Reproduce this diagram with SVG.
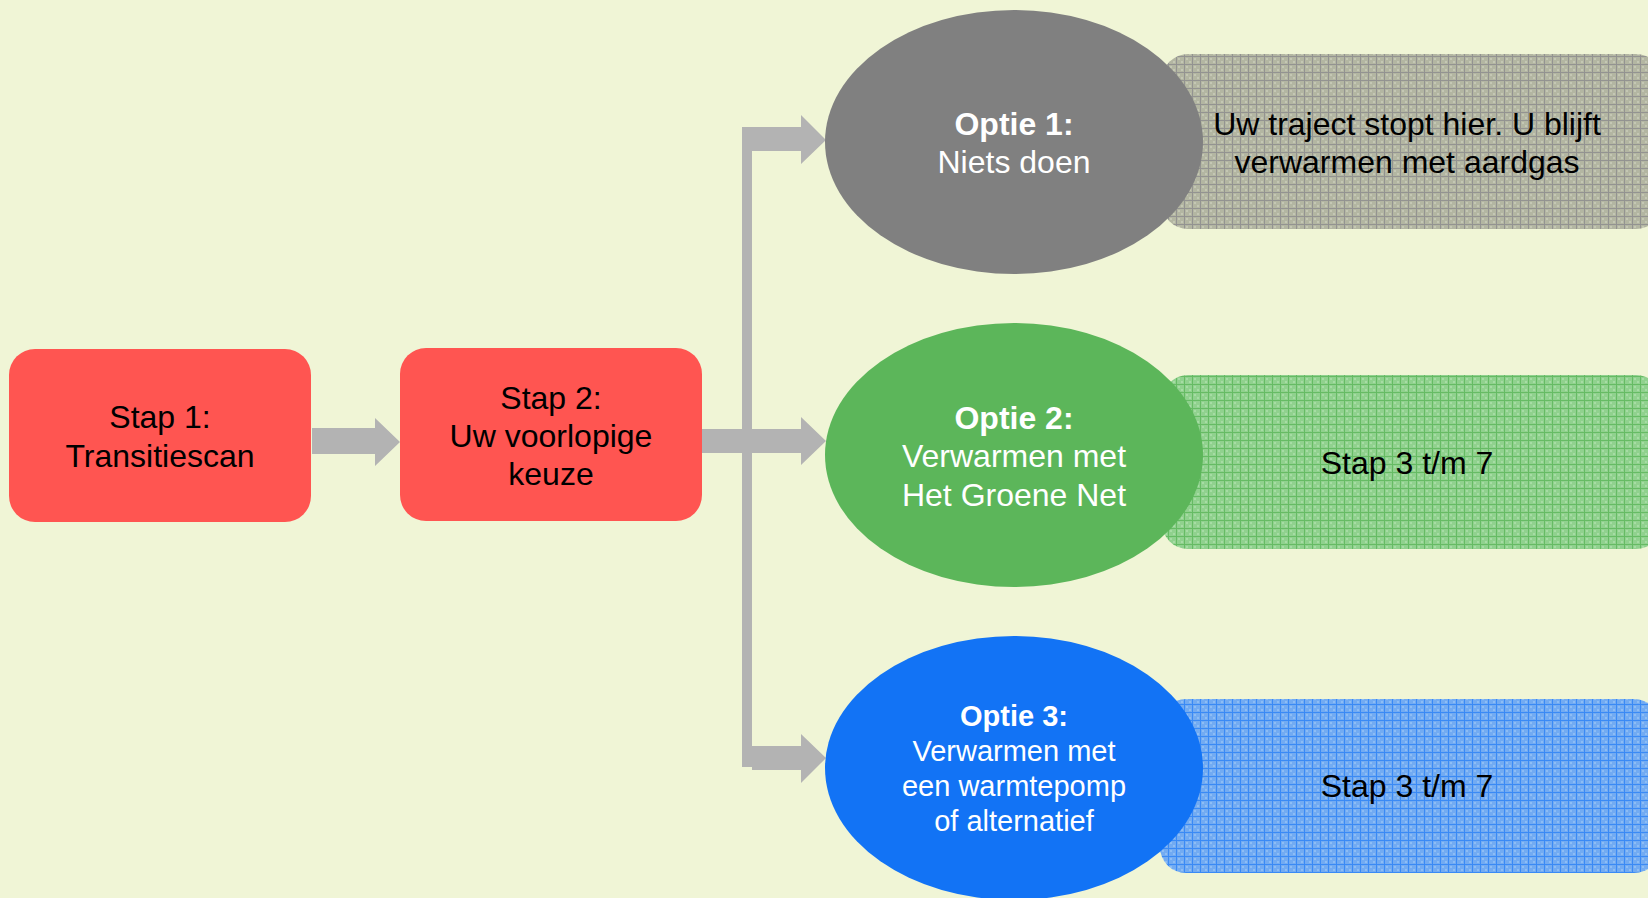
<svg xmlns="http://www.w3.org/2000/svg" width="1648" height="898" viewBox="0 0 1648 898">
<style>
text{font-family:"Liberation Sans",Arial,sans-serif;text-anchor:middle}
.dark{fill:#000;font-size:32px}
.w{fill:#fff;font-size:32px}
.s{font-size:29px}
.b{font-weight:bold}
.step{fill:#ff5551}
.arr{fill:#b3b3b3}
</style>
<defs>
<pattern id="pg" width="8" height="8" patternUnits="userSpaceOnUse">
<rect width="8" height="8" fill="#b3b6a2"/>
<rect x="2" y="2" width="2" height="2" fill="#c4c7b4"/><rect x="5" y="5" width="2" height="2" fill="#c4c7b4"/>
<rect width="8" height="1" fill="#939391"/><rect width="1" height="8" fill="#939391"/>
</pattern>
<pattern id="pgr" width="8" height="8" patternUnits="userSpaceOnUse">
<rect width="8" height="8" fill="#90d18e"/>
<rect x="2" y="2" width="2" height="2" fill="#a6dca4"/><rect x="5" y="5" width="2" height="2" fill="#a6dca4"/>
<rect width="8" height="1" fill="#66bb64"/><rect width="1" height="8" fill="#66bb64"/>
</pattern>
<pattern id="pb" width="8" height="8" patternUnits="userSpaceOnUse">
<rect width="8" height="8" fill="#72abf2"/>
<rect x="2" y="2" width="2" height="2" fill="#8dbdf5"/><rect x="5" y="5" width="2" height="2" fill="#8dbdf5"/>
<rect width="8" height="1" fill="#3a8af5"/><rect width="1" height="8" fill="#3a8af5"/>
</pattern>
</defs>
<rect width="1648" height="898" fill="#f0f5d6"/>

<g id="connectors" class="arr">
<polygon points="312,428 375,428 375,418 400,442 375,466 375,454 312,454"/>
<rect x="742" y="127" width="10" height="640"/>
<polygon points="742,127 801,127 801,115 826,140 801,164 801,151 752,151 752,127"/>
<polygon points="702,429 801,429 801,417 826,441 801,465 801,453 702,453"/>
<polygon points="742,746 801,746 801,734 826,758 801,783 801,770 752,770 752,767 742,767"/>
</g>

<g id="step1">
<rect class="step" x="9" y="349" width="302" height="173" rx="26"/>
<text class="dark" x="160" y="428">Stap 1:</text>
<text class="dark" x="160" y="467">Transitiescan</text>
</g>
<g id="step2">
<rect class="step" x="400" y="348" width="302" height="173" rx="26"/>
<text class="dark" x="551" y="409">Stap 2:</text>
<text class="dark" x="551" y="447">Uw voorlopige</text>
<text class="dark" x="551" y="485">keuze</text>
</g>

<g id="result1">
<rect x="1162" y="54" width="500" height="175" rx="26" fill="url(#pg)"/>
<text class="dark" x="1407" y="135">Uw traject stopt hier. U blijft</text>
<text class="dark" x="1407" y="173">verwarmen met aardgas</text>
</g>
<g id="result2">
<rect x="1162" y="375" width="500" height="174" rx="26" fill="url(#pgr)"/>
<text class="dark" x="1407" y="474">Stap 3 t/m 7</text>
</g>
<g id="result3">
<rect x="1160" y="699" width="500" height="174" rx="26" fill="url(#pb)"/>
<text class="dark" x="1407" y="797">Stap 3 t/m 7</text>
</g>

<g id="option1">
<ellipse cx="1014" cy="142" rx="189" ry="132" fill="#808080"/>
<text class="w b" x="1014" y="135">Optie 1:</text>
<text class="w" x="1014" y="173">Niets doen</text>
</g>
<g id="option2">
<ellipse cx="1014" cy="455" rx="189" ry="132" fill="#5cb65a"/>
<text class="w b" x="1014" y="429">Optie 2:</text>
<text class="w" x="1014" y="467">Verwarmen met</text>
<text class="w" x="1014" y="506">Het Groene Net</text>
</g>
<g id="option3">
<ellipse cx="1014" cy="768" rx="189" ry="132" fill="#1273f5"/>
<text class="w b s" x="1014" y="726">Optie 3:</text>
<text class="w s" x="1014" y="761">Verwarmen met</text>
<text class="w s" x="1014" y="796">een warmtepomp</text>
<text class="w s" x="1014" y="831">of alternatief</text>
</g>
</svg>
